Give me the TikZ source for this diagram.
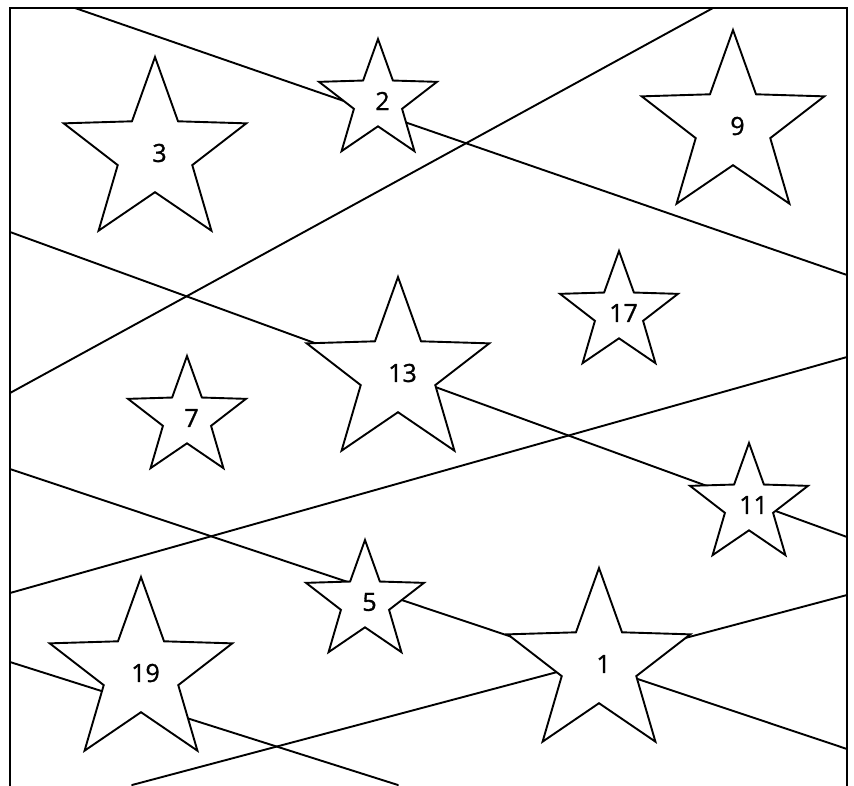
\documentclass[tikz,border=0pt]{standalone}
\usepackage{fontspec}
\setmainfont{Open Sans}
\newfontfamily\labfont{Open Sans}[FakeBold=1.2]
\usetikzlibrary{shapes.geometric}
\newcommand{\starlab}[1]{\makebox[0pt]{\hspace{9pt}\raisebox{-2pt}{#1}}}
\tikzset{
  ln/.style={line width=1.9pt, line cap=round},
  bigstar/.style={star, star points=5, star point ratio=2.45, draw, line width=1.9pt, fill=white, inner sep=0pt, minimum size=192pt, font=\labfont\fontsize{25}{25}\selectfont},
  smallstar/.style={bigstar, minimum size=124pt},
}
\begin{document}
\begin{tikzpicture}[x=1pt,y=-1pt]
\useasboundingbox (0,0) rectangle (854,785);
% frame
\draw[line width=1.9pt] (10,786) -- (10,8) -- (847,8) -- (847,786);
% lines
\coordinate (a1) at (75,8);   \coordinate (b1) at (847,275);
\coordinate (a2) at (10,393); \coordinate (b2) at (713,8);
\coordinate (a3) at (10,232); \coordinate (b3) at (847,537);
\coordinate (a4) at (10,593); \coordinate (b4) at (847,357);
\coordinate (a5) at (10,469); \coordinate (b5) at (847,749);
\coordinate (a6) at (10,662); \coordinate (b6) at (398,785);
\coordinate (a7) at (132,785); \coordinate (b7) at (847,595);
\foreach \i in {1,...,7} { \draw[ln] (a\i) -- (b\i); }
% stars
\node[bigstar]   (s3)  at (155,153) {\starlab{3}};
\node[smallstar] (s2)  at (378,101) {\starlab{2}};
\node[bigstar]   (s9)  at (733,126) {\starlab{9}};
\node[bigstar]   (s13) at (398,373) {\starlab{13}};
\node[smallstar] (s17) at (619,313) {\starlab{17}};
\node[smallstar] (s7)  at (187,418) {\starlab{7}};
\node[smallstar] (s11) at (749,505) {\starlab{11}};
\node[smallstar] (s5)  at (365,602) {\starlab{5}};
\node[bigstar]   (s19) at (141,673) {\starlab{19}};
\node[bigstar]   (s1)  at (599,664) {\starlab{1}};
\end{tikzpicture}
\end{document}
